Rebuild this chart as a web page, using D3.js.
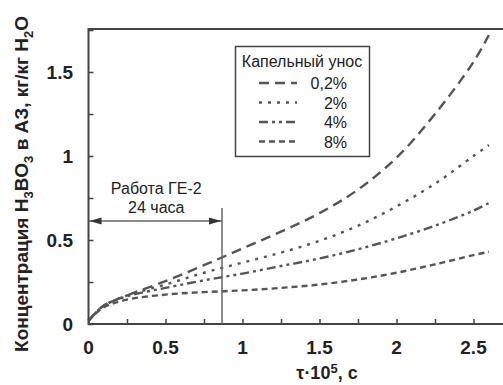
<!DOCTYPE html>
<html>
<head>
<meta charset="utf-8">
<script src="https://d3js.org/d3.v7.min.js"></script>
<style>
  body { margin: 0; background: #fff; }
  text { font-family: "Liberation Sans Narrow", "Liberation Sans", Arial, sans-serif; fill: #222; }
</style>
</head>
<body>
<div id="chart"></div>
<script>
  // time axis, tau * 10^5 s
  var tau = [0, 0.05, 0.1, 0.25, 0.5, 0.75, 1, 1.25, 1.5, 1.75, 2, 2.25, 2.5, 2.6];

  // H3BO3 concentration, kg/kg H2O, for each droplet carry-over
  var c02 = [0.02, 0.07, 0.11, 0.17, 0.255, 0.35, 0.45, 0.55, 0.66, 0.80, 0.99, 1.25, 1.56, 1.72];
  var c2  = [0.02, 0.07, 0.11, 0.17, 0.235, 0.305, 0.365, 0.425, 0.495, 0.585, 0.70, 0.835, 1.0, 1.065];
  var c4  = [0.02, 0.07, 0.11, 0.165, 0.215, 0.26, 0.30, 0.345, 0.39, 0.445, 0.51, 0.585, 0.675, 0.72];
  var c8  = [0.02, 0.065, 0.10, 0.145, 0.175, 0.19, 0.20, 0.215, 0.235, 0.265, 0.305, 0.355, 0.41, 0.43];

  var seriesNames = ["0,2%", "2%", "4%", "8%"];
  var seriesValues = [c02, c2, c4, c8];
  var dashes = ["10,6", "3,6", "9,4,3,4,3,4", "6,4"];

  var xTicks = [0, 0.5, 1, 1.5, 2, 2.5];
  var xTickLabels = ["0", "0.5", "1", "1.5", "2", "2.5"];
  var yTicks = [0, 0.5, 1, 1.5];
  var yTickLabels = ["0", "0.5", "1", "1.5"];

  // GE-2 operation, 24 hours
  var geEnd = 0.867;
  var geArrowY = 0.613;
  var geLineTop = 0.69;

  var W = 503, H = 385;
  var margin = {top: 29, right: 0, bottom: 61, left: 88};

  var x = d3.scaleLinear().domain([0, 2.7]).range([margin.left + 0.5, margin.left + 0.5 + 2.7 * 154]);
  var y = d3.scaleLinear().domain([0, 1.756]).range([H - margin.bottom, margin.top]);

  var svg = d3.select('#chart').append('svg')
    .attr('width', W).attr('height', H);

  var axisColor = '#444';

  // curves
  var line = d3.line()
    .x(function(d) { return x(d[0]); })
    .y(function(d) { return y(d[1]); })
    .curve(d3.curveCatmullRom.alpha(0.5));

  svg.append('g').selectAll('path')
    .data(seriesValues)
    .enter().append('path')
      .attr('d', function(v) { return line(v.map(function(c, i) { return [tau[i], c]; })); })
      .attr('fill', 'none')
      .attr('stroke', '#555')
      .attr('stroke-width', 2.4)
      .attr('stroke-linecap', 'butt')
      .attr('stroke-dasharray', function(d, i) { return dashes[i]; });

  // axes: ticks pointing inward
  var xAxis = d3.axisTop(x).tickValues(d3.range(0, 2.7, 0.25)).tickSize(5).tickFormat('');
  var yAxis = d3.axisRight(y).tickValues(d3.range(0, 1.76, 0.25)).tickSize(5).tickFormat('');

  var gx = svg.append('g')
    .attr('transform', 'translate(0,' + y(0) + ')')
    .call(xAxis);
  var gy = svg.append('g')
    .attr('transform', 'translate(' + x(0) + ',0)')
    .call(yAxis);
  [gx, gy].forEach(function(g) {
    g.select('.domain').remove();
    g.selectAll('line').attr('stroke', axisColor).attr('stroke-width', 1.5);
  });

  // frame: left, bottom, top
  svg.append('path')
    .attr('d', 'M' + W + ',' + y(1.756) + 'H' + x(0) + 'V' + y(0) + 'H' + W)
    .attr('fill', 'none')
    .attr('stroke', axisColor)
    .attr('stroke-width', 2);

  // tick labels
  svg.append('g').selectAll('text')
    .data(xTicks)
    .enter().append('text')
      .attr('x', function(d) { return x(d); })
      .attr('y', 354)
      .attr('text-anchor', 'middle')
      .style('font-size', '19px')
      .style('font-weight', 'bold')
      .text(function(d, i) { return xTickLabels[i]; });

  svg.append('g').selectAll('text')
    .data(yTicks)
    .enter().append('text')
      .attr('x', 73)
      .attr('y', function(d) { return y(d) + 7; })
      .attr('text-anchor', 'end')
      .style('font-size', '19px')
      .style('font-weight', 'bold')
      .text(function(d, i) { return yTickLabels[i]; });

  // axis titles
  var xt = svg.append('text')
    .attr('x', 327).attr('y', 379)
    .attr('text-anchor', 'middle')
    .style('font-size', '18px')
    .style('font-weight', 'bold');
  xt.append('tspan').text('τ·10');
  xt.append('tspan').attr('dy', -6).style('font-size', '13px').text('5');
  xt.append('tspan').attr('dy', 6).text(', с');

  var yt = svg.append('text')
    .attr('transform', 'translate(28,184) rotate(-90)')
    .attr('text-anchor', 'middle')
    .style('font-size', '19px')
    .style('font-weight', 'bold');
  yt.append('tspan').text('Концентрация H');
  yt.append('tspan').attr('dy', 5).style('font-size', '13px').text('3');
  yt.append('tspan').attr('dy', -5).text('BO');
  yt.append('tspan').attr('dy', 5).style('font-size', '13px').text('3');
  yt.append('tspan').attr('dy', -5).text(' в АЗ, кг/кг H');
  yt.append('tspan').attr('dy', 5).style('font-size', '13px').text('2');
  yt.append('tspan').attr('dy', -5).text('O');

  // GE-2 annotation
  svg.append('line')
    .attr('x1', x(geEnd)).attr('x2', x(geEnd))
    .attr('y1', y(geLineTop)).attr('y2', y(0))
    .attr('stroke', '#666').attr('stroke-width', 1.5);
  svg.append('line')
    .attr('x1', x(0)).attr('x2', x(geEnd))
    .attr('y1', y(geArrowY)).attr('y2', y(geArrowY))
    .attr('stroke', '#666').attr('stroke-width', 1.3);
  var ay = y(geArrowY);
  svg.append('path')
    .attr('d', 'M' + (x(0) + 1) + ',' + ay + 'l12,-3.5v7z')
    .attr('fill', '#333');
  svg.append('path')
    .attr('d', 'M' + (x(geEnd) - 1) + ',' + ay + 'l-12,-3.5v7z')
    .attr('fill', '#333');
  svg.append('text')
    .attr('x', x(geEnd / 2) + 1).attr('y', 194)
    .attr('text-anchor', 'middle')
    .style('font-size', '16px')
    .text('Работа ГЕ-2');
  svg.append('text')
    .attr('x', x(geEnd / 2) + 1).attr('y', 213)
    .attr('text-anchor', 'middle')
    .style('font-size', '16px')
    .text('24 часа');

  // legend
  var legend = svg.append('g');
  legend.append('rect')
    .attr('x', 235.5).attr('y', 46.5)
    .attr('width', 134).attr('height', 110)
    .attr('fill', '#fff')
    .attr('stroke', axisColor)
    .attr('stroke-width', 1.5);
  legend.append('text')
    .attr('x', 302).attr('y', 67)
    .attr('text-anchor', 'middle')
    .style('font-size', '16px')
    .text('Капельный унос');
  var rows = legend.selectAll('g.row')
    .data(seriesNames)
    .enter().append('g')
      .attr('class', 'row')
      .attr('transform', function(d, i) { return 'translate(0,' + (89 + i * 19.5) + ')'; });
  rows.append('line')
    .attr('x1', 259).attr('x2', 297)
    .attr('y1', -6).attr('y2', -6)
    .attr('stroke', '#555')
    .attr('stroke-width', 2.4)
    .attr('stroke-dasharray', function(d, i) { return dashes[i]; });
  rows.append('text')
    .attr('x', 347).attr('y', 0)
    .attr('text-anchor', 'end')
    .style('font-size', '16px')
    .text(function(d) { return d; });
</script>
</body>
</html>
